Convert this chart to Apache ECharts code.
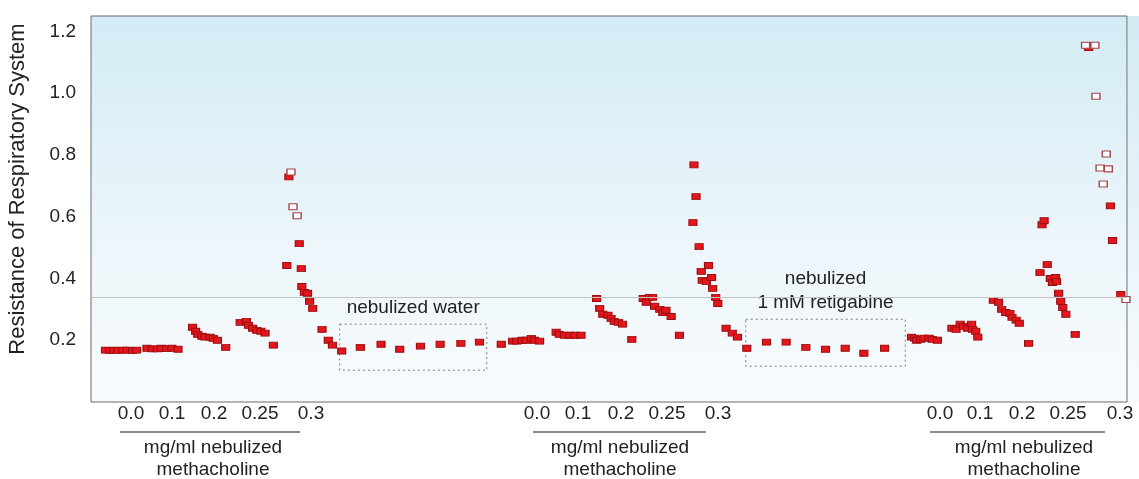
<!DOCTYPE html>
<html><head><meta charset="utf-8">
<script src="https://cdn.jsdelivr.net/npm/echarts@6/dist/echarts.min.js"></script>
<style>html,body{margin:0;padding:0;background:#fff}#c{width:1139px;height:479px}</style>
</head><body><div id="c"></div>
<script>
// time (arbitrary units, 0-100) and resistance values
const ch1Time = [1.4,1.8,2.2,2.6,3.1,3.5,4.0,4.4, 5.4,5.9,6.4,6.8,7.3,7.8,8.4, 9.8,10.1,10.3,10.7,11.0,11.5,11.8,12.2,13.0, 14.4,15.0,15.2,15.6,16.0,16.4,16.8,17.6, 18.9,19.1,20.1,20.3,20.35,20.6,20.9,21.1,21.4,22.3,22.9,23.3];
const ch1Res  = [0.168,0.167,0.168,0.167,0.168,0.168,0.167,0.168, 0.174,0.172,0.172,0.174,0.173,0.174,0.171, 0.242,0.229,0.219,0.213,0.210,0.210,0.206,0.200,0.177, 0.258,0.261,0.248,0.239,0.232,0.229,0.223,0.184, 0.442,0.729,0.513,0.432,0.374,0.355,0.352,0.326,0.303,0.235,0.200,0.184];
const waterTime = [24.2,26.0,28.0,29.8,31.8,33.7,35.7,37.5];
const waterRes  = [0.165,0.177,0.187,0.171,0.181,0.187,0.190,0.194];
const ch2Time = [39.6,40.7,41.1,41.6,42.0,42.5,42.8,43.3, 44.9,45.2,45.7,46.2,46.7,47.3, 48.8,49.1,49.4,49.9,50.2,50.5,50.9,51.3,52.2, 53.3,53.6,53.9,54.2,54.4,54.9,55.2,55.5,56.0,56.8, 58.1,58.2,58.4,58.7,58.9,59.0,59.4,59.6,59.9,60.0,60.3,60.5,61.3,61.9,62.4,63.3];
const ch2Res  = [0.187,0.197,0.197,0.200,0.200,0.206,0.200,0.197, 0.226,0.219,0.216,0.216,0.216,0.216, 0.335,0.303,0.284,0.281,0.271,0.261,0.258,0.252,0.203, 0.335,0.323,0.339,0.339,0.310,0.300,0.290,0.297,0.277,0.216, 0.581,0.768,0.665,0.503,0.423,0.394,0.390,0.442,0.403,0.368,0.339,0.319,0.239,0.223,0.210,0.174];
const retigTime = [65.2,67.1,69.0,70.9,72.8,74.6,76.6];
const retigRes  = [0.194,0.194,0.177,0.171,0.174,0.158,0.174];
const ch3Time = [79.2,79.5,79.7,80.1,80.4,80.9,81.2,81.7, 83.1,83.5,83.9,84.2,84.6,85.0,85.1,85.4,85.6, 87.1,87.6,87.9,88.3,88.7,88.9,89.3,89.6,90.5, 91.6,91.8,92.0,92.3,92.6,92.8,93.1,93.2,93.4,93.6,93.8,94.1,95.0, 96.2,96.3,98.4,98.6,99.4];
const ch3Res  = [0.210,0.207,0.200,0.203,0.207,0.207,0.203,0.200, 0.239,0.235,0.252,0.245,0.239,0.252,0.235,0.229,0.210, 0.329,0.323,0.300,0.290,0.287,0.274,0.265,0.255,0.190, 0.419,0.574,0.587,0.445,0.400,0.387,0.403,0.390,0.352,0.326,0.306,0.284,0.219, 1.155,1.148,0.635,0.523,0.348];
// open (hollow) markers
const openTime = [19.3,19.5,19.9, 96.0,96.9,97.0,97.4,97.7,98.0,98.2,99.9];
const openRes  = [0.745,0.632,0.603, 1.155,1.155,0.990,0.758,0.706,0.803,0.755,0.332];
const referenceLevel = 0.335;
const waterBox = {t0:24.0, t1:38.2, lo:0.103, hi:0.252, label:'nebulized water'};
const retigBox = {t0:63.2, t1:78.6, lo:0.116, hi:0.268, label:'nebulized\n1 mM retigabine'};
const doseLabels = ['0.0','0.1','0.2','0.25','0.3'];
const yTickLabels = ['0.2','0.4','0.6','0.8','1.0','1.2'];
const yAxisTitle = 'Resistance of Respiratory System';
const unitLine1 = 'mg/ml nebulized';
const unitLine2 = 'methacholine';

const zip = (a,b) => a.map((v,i)=>[v,b[i]]);
const solid = [].concat(zip(ch1Time,ch1Res), zip(waterTime,waterRes), zip(ch2Time,ch2Res), zip(retigTime,retigRes), zip(ch3Time,ch3Res));
const open = zip(openTime, openRes);

const FONT = '"Liberation Sans", Arial, sans-serif';
const chart = echarts.init(document.getElementById('c'));

// bottom annotation layout (pixels)
const groups = [
  {dose:[131,172,214,260,311], line:[120,300], center:213},
  {dose:[537,578,621,667,718], line:[533,706], center:620},
  {dose:[940,980,1022,1068,1120], line:[930,1105], center:1024}
];
const graphics = [
  {type:'rect', shape:{x:1128,y:16,width:11,height:386}, style:{fill:new echarts.graphic.LinearGradient(0,0,0,1,[{offset:0,color:'#d3ebf5'},{offset:1,color:'#f8fbfd'}])}, z:-1},
  {type:'text', x:18, y:189, rotation:Math.PI/2, style:{text:yAxisTitle, font:'22px '+FONT, fill:'#222', align:'center', verticalAlign:'middle'}}
];
groups.forEach(g=>{
  g.dose.forEach((x,i)=>graphics.push({type:'text', x:x, y:414, style:{text:doseLabels[i], font:'19px '+FONT, fill:'#222', align:'center', verticalAlign:'middle'}}));
  graphics.push({type:'line', shape:{x1:g.line[0],y1:432,x2:g.line[1],y2:432}, style:{stroke:'#8a8a8a', lineWidth:2}});
  graphics.push({type:'text', x:g.center, y:448, style:{text:unitLine1, font:'19px '+FONT, fill:'#222', align:'center', verticalAlign:'middle'}});
  graphics.push({type:'text', x:g.center, y:470, style:{text:unitLine2, font:'19px '+FONT, fill:'#222', align:'center', verticalAlign:'middle'}});
});

const boxLabel = {show:true, position:'top', distance:4, color:'#222', fontSize:19, fontFamily:FONT, lineHeight:24};

chart.setOption({
  animation:false,
  grid:{left:91, right:12, top:16, bottom:77, show:true, borderColor:'#6a6a6a', borderWidth:1,
    backgroundColor:new echarts.graphic.LinearGradient(0,0,0,1,[{offset:0,color:'#d3ebf5'},{offset:0.55,color:'#ebf5fa'},{offset:1,color:'#f8fbfd'}])},
  xAxis:{type:'value', min:0, max:100, axisLine:{show:false}, axisTick:{show:false}, axisLabel:{show:false}, splitLine:{show:false}},
  yAxis:{type:'value', min:0, max:1.25, interval:0.2,
    axisLine:{show:false}, axisTick:{show:false}, splitLine:{show:false},
    axisLabel:{showMinLabel:false, showMaxLabel:false, margin:15, color:'#222', fontSize:19, fontFamily:FONT,
      formatter:(v)=>{const s=v.toFixed(1); return yTickLabels.includes(s)?s:'';}}},
  graphic:graphics,
  series:[
    {type:'scatter', data:solid, symbol:'rect', symbolSize:[8,6],
      itemStyle:{color:'#e3161d', borderColor:'#9c0d0d', borderWidth:1, opacity:1},
      markLine:{silent:true, symbol:['none','none'], label:{show:false}, lineStyle:{color:'#c4c4c4', type:'solid', width:1},
        data:[{yAxis:referenceLevel}]},
      markArea:{silent:true, label:boxLabel,
        itemStyle:{color:'rgba(0,0,0,0)', borderColor:'#7c7c7c', borderWidth:1, borderType:[2,3]},
        data:[[{name:waterBox.label, coord:[waterBox.t0, waterBox.hi]},{coord:[waterBox.t1, waterBox.lo]}],
              [{name:retigBox.label, coord:[retigBox.t0, retigBox.hi]},{coord:[retigBox.t1, retigBox.lo]}]]}
    },
    {type:'scatter', data:open, symbol:'rect', symbolSize:[8,6],
      itemStyle:{color:'#ffffff', borderColor:'#a2454a', borderWidth:1.2, opacity:1}}
  ]
});
</script></body></html>
